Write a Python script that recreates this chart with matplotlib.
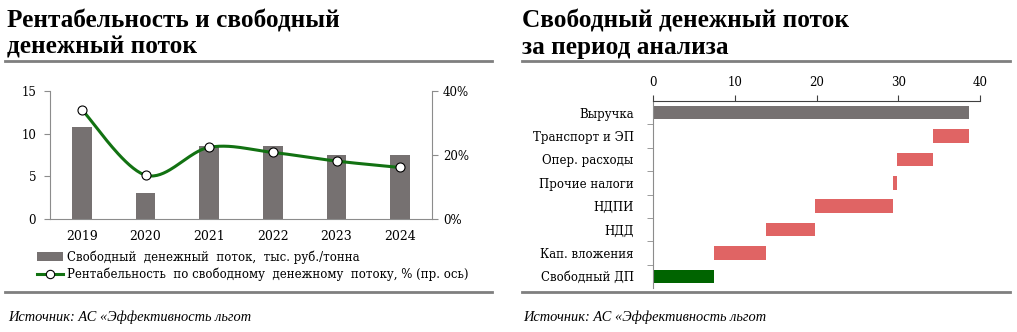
import numpy as np
import matplotlib
matplotlib.use('Agg')
import matplotlib.pyplot as plt
from matplotlib.patches import Patch
from matplotlib.lines import Line2D

# Рентабельность и свободный денежный поток по годам
годы = ['2019', '2020', '2021', '2022', '2023', '2024']
сдп = [10.75, 3.08, 8.55, 8.55, 7.5, 7.5]          # тыс. руб./тонна
рентабельность = [34.2, 13.7, 22.4, 20.8, 18.1, 16.1]  # %

# Каскад свободного денежного потока
статьи = ['Выручка', 'Транспорт и ЭП', 'Опер. расходы', 'Прочие налоги',
          'НДПИ', 'НДД', 'Кап. вложения', 'Свободный ДП']
суммы = [38.7, 4.4, 4.4, 0.6, 9.5, 6.0, 6.3, 7.5]
тип = ['итог', 'расход', 'расход', 'расход', 'расход', 'расход', 'расход', 'результат']

СЕРЫЙ = '#767171'
КРАСНЫЙ = '#E06464'
ЗЕЛЕНЫЙ = '#006400'
ЛИНИЯ = '#127212'
ОСЬ = '#8C8C8C'

plt.rcParams['font.family'] = ['DejaVu Serif']
plt.rcParams['font.size'] = 8.5

fig = plt.figure(figsize=(10.17, 3.32), dpi=100)

W, H = 1017, 332


def fx(px):
    return px / W


def fy(py):
    return 1 - py / H


def сглаженная(x, y, n=40):
    """Сглаженная линия через точки (сплайн Катмулла-Рома)."""
    p = np.column_stack([x, y]).astype(float)
    p = np.vstack([p[0], p, p[-1]])
    xs, ys = [], []
    t = np.linspace(0, 1, n)
    for i in range(1, len(p) - 2):
        p0, p1, p2, p3 = p[i - 1], p[i], p[i + 1], p[i + 2]
        m1 = (p2 - p0) / 2
        m2 = (p3 - p1) / 2
        h00 = 2 * t**3 - 3 * t**2 + 1
        h10 = t**3 - 2 * t**2 + t
        h01 = -2 * t**3 + 3 * t**2
        h11 = t**3 - t**2
        seg = (np.outer(h00, p1) + np.outer(h10, m1)
               + np.outer(h01, p2) + np.outer(h11, m2))
        xs.extend(seg[:, 0])
        ys.extend(seg[:, 1])
    return np.array(xs), np.array(ys)


# Заголовки и линии оформления
заголовок = dict(family='Liberation Serif', fontweight='bold', fontsize=18.2,
                 va='baseline', ha='left')
fig.text(fx(7), fy(27), 'Рентабельность и свободный', **заголовок)
fig.text(fx(7), fy(54), 'денежный поток', **заголовок)
fig.text(fx(522), fy(27), 'Свободный денежный поток', **заголовок)
fig.text(fx(522), fy(54), 'за период анализа', **заголовок)

for x0, x1 in [(5, 492), (522, 1010)]:
    fig.add_artist(Line2D([fx(x0), fx(x1)], [fy(61), fy(61)], color='#7F7F7F', lw=2))
    fig.add_artist(Line2D([fx(x0), fx(x1)], [fy(292), fy(292)], color='#7F7F7F', lw=2))

источник = dict(family='Liberation Serif', style='italic', fontsize=10.4, va='center', ha='left')
fig.text(fx(8), fy(317), 'Источник: АС «Эффективность льгот', **источник)
fig.text(fx(523), fy(317), 'Источник: АС «Эффективность льгот', **источник)

# Левый график: столбцы и линия рентабельности
ax1 = fig.add_axes([fx(50), fy(219), fx(432 - 50), (219 - 91) / H])
x = np.arange(len(годы))
ax1.bar(x, сдп, width=0.31, color=СЕРЫЙ, zorder=2)
ax1.set_xlim(-0.5, len(годы) - 0.5)
ax1.set_ylim(0, 15)
ax1.set_yticks([0, 5, 10, 15])
ax1.set_xticks(x)
ax1.set_xticklabels(годы, fontsize=9)
ax1.tick_params(axis='x', length=0, pad=8)
ax1.tick_params(axis='y', length=4, color=ОСЬ, pad=6)
for s in ['top', 'right']:
    ax1.spines[s].set_visible(False)
for s in ['left', 'bottom']:
    ax1.spines[s].set_color(ОСЬ)

ax2 = ax1.twinx()
sx, sy = сглаженная(x, рентабельность)
ax2.plot(sx, sy, color=ЛИНИЯ, lw=2.2, zorder=3)
ax2.plot(x, рентабельность, ls='none', marker='o', ms=6.5, mfc='white',
         mec='black', mew=0.8, zorder=4)
ax2.set_ylim(0, 40)
ax2.set_yticks([0, 20, 40])
ax2.set_yticklabels(['0%', '20%', '40%'])
ax2.tick_params(axis='y', length=4, color=ОСЬ, pad=4)
for s in ['top', 'left', 'bottom']:
    ax2.spines[s].set_visible(False)
ax2.spines['right'].set_color(ОСЬ)

handles = [Patch(facecolor=СЕРЫЙ, edgecolor='none'),
           Line2D([], [], color=ЛИНИЯ, lw=2.2, marker='o', ms=6, mfc='white',
                  mec='black', mew=0.8)]
labels = ['Свободный  денежный  поток,  тыс. руб./тонна',
          'Рентабельность  по свободному  денежному  потоку, % (пр. ось)']
fig.legend(handles, labels, loc='upper left', bbox_to_anchor=(fx(37), fy(250)),
           frameon=False, handlelength=2.2, handleheight=0.7, handletextpad=0.3,
           labelspacing=0.35, borderpad=0, borderaxespad=0, fontsize=8.5)

# Правый график: каскад
ax3 = fig.add_axes([fx(653), fy(288), fx(980 - 653), (288 - 101) / H])
y = np.arange(len(статьи))
остаток = 0.0
лев, цвета = [], []
for v, t in zip(суммы, тип):
    if t == 'итог':
        лев.append(0.0)
        остаток = v
        цвета.append(СЕРЫЙ)
    elif t == 'расход':
        остаток -= v
        лев.append(остаток)
        цвета.append(КРАСНЫЙ)
    else:
        лев.append(0.0)
        цвета.append(ЗЕЛЕНЫЙ)
ax3.barh(y, суммы, left=лев, height=0.58, color=цвета, zorder=2)
ax3.set_ylim(len(статьи) - 0.5, -0.5)
ax3.set_xlim(0, 40)
ax3.set_xticks([0, 10, 20, 30, 40])
ax3.xaxis.tick_top()
ax3.tick_params(axis='x', length=4, color='#404040', pad=5)
ax3.set_yticks(y)
ax3.set_yticklabels(статьи)
ax3.tick_params(axis='y', which='major', length=0, pad=14)
ax3.set_yticks(np.arange(0.5, len(статьи) - 0.5), minor=True)
ax3.tick_params(axis='y', which='minor', length=4, color=ОСЬ)
for s in ['bottom', 'right']:
    ax3.spines[s].set_visible(False)
ax3.spines['top'].set_color('#404040')
ax3.spines['left'].set_color(ОСЬ)

fig.savefig('out.png', dpi=100)
